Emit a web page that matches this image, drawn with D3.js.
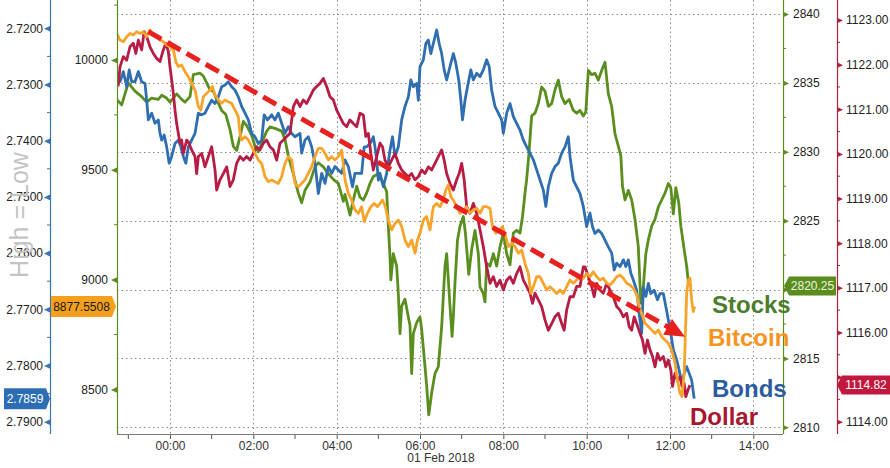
<!DOCTYPE html>
<html><head><meta charset="utf-8">
<script src="https://cdn.jsdelivr.net/npm/d3@7"></script>
<style>
html,body{margin:0;padding:0;background:#fff;}
svg{display:block;font-family:"Liberation Sans",Arial,sans-serif;}
</style></head><body>
<svg id="c" width="890" height="468"></svg>
<script>
// ---- data (time in hours from 01 Feb 2018 00:00, value) ----
const stocks = [[-1.28,2833.8],[-1.16,2833.4],[-1.0,2835.0],[-0.84,2834.4],[-0.68,2834.0],[-0.56,2833.6],[-0.44,2833.9],[-0.28,2833.8],[-0.2,2834.1],[-0.08,2833.9],[0,2833.6],[0.16,2834.2],[0.28,2833.8],[0.36,2833.6],[0.48,2834.0],[0.56,2835.6],[0.72,2835.7],[0.8,2835.5],[0.88,2835.0],[0.96,2834.5],[1.04,2834.4],[1.12,2833.8],[1.24,2833.0],[1.34,2832.7],[1.44,2831.6],[1.52,2830.4],[1.6,2830.1],[1.68,2831.1],[1.76,2832.2],[1.84,2831.9],[1.96,2831.2],[2.04,2830.4],[2.12,2830.0],[2.2,2830.6],[2.32,2831.5],[2.4,2831.8],[2.52,2831.7],[2.68,2831.5],[2.76,2830.9],[2.84,2829.7],[2.96,2828.4],[3.08,2827.0],[3.16,2826.3],[3.24,2827.2],[3.36,2827.8],[3.48,2828.9],[3.56,2829.2],[3.68,2828.9],[3.8,2828.4],[3.92,2828.0],[4.04,2827.7],[4.16,2826.4],[4.2,2826.9],[4.32,2825.4],[4.4,2826.5],[4.48,2827.5],[4.56,2826.7],[4.64,2826.5],[4.72,2827.0],[4.8,2827.7],[4.88,2828.2],[5.0,2828.4],[5.12,2827.7],[5.2,2827.1],[5.24,2824.6],[5.28,2822.4],[5.3,2820.7],[5.36,2822.6],[5.44,2821.7],[5.48,2819.7],[5.52,2816.8],[5.56,2818.8],[5.64,2819.3],[5.72,2818.0],[5.76,2817.4],[5.8,2813.9],[5.84,2816.8],[5.92,2817.6],[6.0,2818.0],[6.04,2817.1],[6.12,2814.4],[6.16,2813.0],[6.21,2810.9],[6.28,2812.5],[6.36,2813.9],[6.44,2814.4],[6.52,2817.3],[6.6,2821.7],[6.64,2822.6],[6.72,2818.8],[6.77,2816.6],[6.8,2818.0],[6.84,2820.5],[6.9,2823.6],[6.96,2824.6],[7.04,2825.3],[7.09,2824.1],[7.13,2822.6],[7.17,2821.1],[7.24,2822.9],[7.32,2824.3],[7.4,2822.6],[7.44,2820.2],[7.52,2819.7],[7.56,2819.1],[7.6,2821.9],[7.68,2821.7],[7.76,2822.6],[7.84,2821.7],[7.92,2823.1],[8.0,2824.1],[8.08,2822.6],[8.16,2821.8],[8.24,2824.1],[8.32,2824.3],[8.4,2824.1],[8.46,2825.3],[8.52,2827.0],[8.56,2828.0],[8.61,2829.7],[8.68,2832.6],[8.76,2832.8],[8.84,2833.5],[8.92,2834.7],[9.0,2834.4],[9.08,2833.3],[9.16,2833.5],[9.24,2834.5],[9.32,2835.2],[9.4,2834.0],[9.48,2833.5],[9.58,2833.8],[9.68,2833.0],[9.76,2832.8],[9.84,2833.0],[9.92,2832.6],[9.98,2832.9],[10.04,2835.9],[10.12,2835.6],[10.2,2835.7],[10.28,2835.2],[10.36,2835.9],[10.44,2836.5],[10.52,2834.2],[10.6,2833.3],[10.68,2831.3],[10.76,2830.4],[10.82,2829.7],[10.86,2827.5],[10.92,2826.5],[11.0,2827.2],[11.08,2826.5],[11.16,2825.1],[11.24,2823.1],[11.3,2819.0],[11.36,2820.2],[11.42,2822.6],[11.48,2823.6],[11.56,2824.6],[11.64,2825.1],[11.72,2826.0],[11.8,2826.5],[11.88,2827.0],[11.96,2827.7],[12.02,2827.4],[12.08,2825.5],[12.14,2827.4],[12.21,2826.3],[12.26,2824.6],[12.34,2822.9],[12.4,2821.7],[12.45,2820.25]];

const bonds = [[-1.28,2.7286],[-1.2,2.7295],[-1.12,2.7277],[-1.04,2.7304],[-0.98,2.7274],[-0.92,2.7295],[-0.84,2.7295],[-0.76,2.7277],[-0.68,2.7295],[-0.6,2.7298],[-0.56,2.7328],[-0.52,2.7363],[-0.44,2.7351],[-0.36,2.7369],[-0.28,2.7363],[-0.24,2.7387],[-0.2,2.7399],[-0.14,2.7390],[-0.08,2.7411],[-0.02,2.7440],[0.04,2.7428],[0.12,2.7405],[0.2,2.7399],[0.26,2.7411],[0.32,2.7428],[0.38,2.7440],[0.44,2.7411],[0.52,2.7399],[0.6,2.7387],[0.68,2.7351],[0.76,2.7354],[0.84,2.7351],[0.92,2.7339],[1.0,2.7328],[1.08,2.7334],[1.16,2.7322],[1.24,2.7304],[1.32,2.7301],[1.4,2.7295],[1.48,2.7304],[1.56,2.7310],[1.64,2.7322],[1.72,2.7339],[1.8,2.7351],[1.88,2.7363],[1.96,2.7387],[2.04,2.7393],[2.12,2.7405],[2.2,2.7399],[2.26,2.7354],[2.34,2.7363],[2.44,2.7354],[2.52,2.7363],[2.6,2.7351],[2.68,2.7369],[2.76,2.7387],[2.84,2.7375],[2.92,2.7387],[3.0,2.7393],[3.12,2.7387],[3.16,2.7422],[3.24,2.7399],[3.32,2.7393],[3.4,2.7411],[3.48,2.7440],[3.56,2.7494],[3.64,2.7458],[3.72,2.7476],[3.8,2.7446],[3.88,2.7458],[3.96,2.7446],[4.04,2.7452],[4.12,2.7458],[4.2,2.7434],[4.28,2.7446],[4.38,2.7482],[4.44,2.7458],[4.52,2.7458],[4.6,2.7458],[4.66,2.7411],[4.72,2.7411],[4.8,2.7405],[4.88,2.7393],[4.92,2.7411],[4.96,2.7434],[5.0,2.7470],[5.04,2.7458],[5.12,2.7482],[5.2,2.7458],[5.28,2.7417],[5.34,2.7393],[5.4,2.7428],[5.48,2.7411],[5.52,2.7387],[5.56,2.7363],[5.64,2.7339],[5.72,2.7322],[5.78,2.7292],[5.84,2.7304],[5.92,2.7298],[5.96,2.7328],[6.0,2.7268],[6.08,2.7256],[6.14,2.7227],[6.2,2.7221],[6.26,2.7245],[6.32,2.7227],[6.4,2.7203],[6.46,2.7227],[6.52,2.7245],[6.58,2.7274],[6.64,2.7292],[6.72,2.7268],[6.8,2.7245],[6.86,2.7262],[6.93,2.7292],[6.98,2.7328],[7.02,2.7363],[7.08,2.7328],[7.14,2.7304],[7.22,2.7274],[7.28,2.7292],[7.36,2.7280],[7.44,2.7286],[7.52,2.7274],[7.6,2.7256],[7.66,2.7268],[7.72,2.7310],[7.8,2.7339],[7.88,2.7351],[7.96,2.7363],[8.0,2.7387],[8.08,2.7351],[8.16,2.7334],[8.24,2.7357],[8.32,2.7369],[8.4,2.7381],[8.48,2.7399],[8.56,2.7411],[8.64,2.7422],[8.72,2.7434],[8.8,2.7452],[8.88,2.7470],[8.96,2.7488],[9.02,2.7517],[9.08,2.7482],[9.16,2.7458],[9.24,2.7446],[9.32,2.7440],[9.4,2.7422],[9.48,2.7411],[9.56,2.7393],[9.6,2.7428],[9.68,2.7470],[9.76,2.7482],[9.84,2.7494],[9.92,2.7517],[10.0,2.7553],[10.08,2.7529],[10.14,2.7553],[10.2,2.7565],[10.28,2.7559],[10.36,2.7565],[10.44,2.7577],[10.52,2.7589],[10.6,2.7600],[10.66,2.7630],[10.72,2.7618],[10.8,2.7624],[10.88,2.7612],[10.94,2.7624],[11.0,2.7612],[11.06,2.7636],[11.12,2.7648],[11.2,2.7666],[11.26,2.7707],[11.32,2.7743],[11.36,2.7660],[11.42,2.7677],[11.48,2.7654],[11.54,2.7672],[11.62,2.7666],[11.7,2.7683],[11.76,2.7672],[11.84,2.7672],[11.9,2.7695],[11.96,2.7719],[12.02,2.7743],[12.08,2.7772],[12.16,2.7790],[12.22,2.7808],[12.28,2.7832],[12.34,2.7814],[12.4,2.7802],[12.46,2.7814],[12.52,2.7826],[12.58,2.7859]];

const bitcoin = [[-1.28,10121],[-1.2,10091],[-1.12,10083],[-1.04,10106],[-0.96,10121],[-0.88,10114],[-0.8,10129],[-0.72,10121],[-0.64,10129],[-0.56,10106],[-0.48,10137],[-0.4,10114],[-0.32,10106],[-0.24,10091],[-0.16,10083],[-0.08,10068],[0,10061],[0.08,10046],[0.14,9992],[0.2,9970],[0.28,9977],[0.36,9947],[0.44,9924],[0.52,9894],[0.6,9863],[0.68,9787],[0.74,9772],[0.8,9833],[0.88,9848],[0.96,9863],[1.02,9879],[1.08,9841],[1.16,9818],[1.24,9803],[1.32,9818],[1.4,9810],[1.48,9803],[1.56,9772],[1.64,9742],[1.68,9666],[1.72,9636],[1.8,9651],[1.88,9636],[1.96,9605],[2.04,9575],[2.12,9545],[2.2,9529],[2.28,9469],[2.36,9446],[2.44,9454],[2.52,9446],[2.6,9438],[2.68,9469],[2.76,9529],[2.84,9560],[2.92,9545],[3.0,9438],[3.08,9423],[3.16,9438],[3.24,9454],[3.32,9484],[3.4,9514],[3.48,9560],[3.56,9598],[3.64,9598],[3.72,9575],[3.8,9545],[3.88,9560],[3.96,9545],[4.04,9560],[4.12,9590],[4.2,9454],[4.28,9393],[4.36,9362],[4.44,9317],[4.52,9302],[4.6,9332],[4.66,9264],[4.74,9302],[4.82,9332],[4.9,9347],[4.98,9332],[5.04,9347],[5.1,9362],[5.17,9332],[5.24,9271],[5.32,9226],[5.4,9256],[5.48,9271],[5.56,9241],[5.64,9180],[5.72,9150],[5.8,9180],[5.88,9120],[5.94,9180],[6.0,9211],[6.08,9271],[6.16,9287],[6.24,9226],[6.32,9332],[6.4,9347],[6.48,9332],[6.56,9362],[6.62,9408],[6.68,9431],[6.74,9378],[6.8,9362],[6.88,9332],[6.96,9302],[7.04,9317],[7.12,9332],[7.2,9302],[7.28,9317],[7.36,9325],[7.44,9302],[7.52,9332],[7.6,9332],[7.68,9325],[7.74,9241],[7.82,9211],[7.9,9226],[7.98,9241],[8.06,9195],[8.12,9150],[8.2,9165],[8.28,9150],[8.36,9120],[8.44,9135],[8.52,9074],[8.6,9028],[8.66,8937],[8.72,8968],[8.8,9013],[8.88,9013],[8.96,8983],[9.04,8953],[9.12,8968],[9.2,8953],[9.28,8937],[9.36,8953],[9.44,8937],[9.52,8968],[9.6,8998],[9.68,8983],[9.76,8998],[9.84,9013],[9.92,9006],[10.0,9028],[10.08,9013],[10.16,9036],[10.24,9013],[10.32,8998],[10.4,9006],[10.48,8983],[10.56,8975],[10.64,8991],[10.72,9013],[10.8,9021],[10.88,9006],[10.96,8983],[11.04,8975],[11.12,8960],[11.2,8930],[11.26,8877],[11.32,8846],[11.4,8801],[11.48,8786],[11.56,8770],[11.64,8755],[11.72,8770],[11.8,8740],[11.88,8725],[11.96,8710],[12.04,8679],[12.12,8619],[12.18,8543],[12.24,8482],[12.29,8467],[12.34,8573],[12.37,8755],[12.4,8937],[12.44,8998],[12.48,9006],[12.52,8907],[12.56,8854],[12.59,8877.5508]];

const dollar = [[-1.28,1121.73],[-1.24,1121.54],[-1.2,1121.95],[-1.12,1122.18],[-1.04,1122.10],[-0.96,1122.40],[-0.88,1122.48],[-0.82,1122.25],[-0.76,1122.55],[-0.68,1122.33],[-0.62,1122.74],[-0.56,1122.63],[-0.48,1122.40],[-0.4,1122.25],[-0.32,1122.14],[-0.24,1122.07],[-0.16,1122.33],[-0.1,1122.48],[-0.04,1122.29],[0,1121.95],[0.04,1121.66],[0.08,1121.36],[0.12,1120.98],[0.16,1120.68],[0.2,1120.46],[0.24,1120.24],[0.28,1120.31],[0.32,1120.01],[0.36,1120.16],[0.4,1120.31],[0.44,1120.27],[0.52,1120.09],[0.6,1119.94],[0.64,1119.56],[0.68,1119.94],[0.76,1120.01],[0.84,1119.71],[0.92,1119.94],[1.0,1120.16],[1.08,1119.64],[1.12,1119.19],[1.2,1119.42],[1.28,1119.56],[1.36,1119.71],[1.44,1119.27],[1.52,1119.42],[1.6,1119.79],[1.68,1119.94],[1.76,1119.86],[1.84,1119.94],[1.92,1119.86],[2.0,1120.01],[2.08,1120.16],[2.16,1120.09],[2.24,1120.24],[2.32,1120.31],[2.4,1120.16],[2.48,1120.09],[2.56,1119.86],[2.64,1120.24],[2.72,1120.31],[2.8,1120.39],[2.88,1120.46],[2.96,1121.06],[3.04,1121.21],[3.12,1121.06],[3.2,1121.21],[3.28,1121.13],[3.36,1121.28],[3.44,1121.43],[3.52,1121.51],[3.6,1121.58],[3.68,1121.69],[3.76,1121.51],[3.84,1121.28],[3.92,1121.21],[4.0,1120.98],[4.08,1120.83],[4.16,1120.68],[4.24,1120.61],[4.32,1120.76],[4.4,1120.68],[4.48,1120.61],[4.56,1120.91],[4.64,1120.87],[4.7,1120.39],[4.76,1120.46],[4.82,1120.01],[4.88,1119.64],[4.96,1119.94],[5.04,1120.24],[5.1,1120.16],[5.16,1119.86],[5.24,1119.71],[5.32,1119.86],[5.4,1120.01],[5.48,1119.79],[5.56,1119.64],[5.64,1119.56],[5.72,1119.49],[5.8,1119.56],[5.88,1119.42],[5.96,1119.49],[6.04,1119.64],[6.12,1119.56],[6.2,1119.71],[6.28,1119.64],[6.36,1119.79],[6.44,1119.94],[6.52,1120.09],[6.58,1119.86],[6.64,1119.56],[6.72,1119.34],[6.8,1119.19],[6.88,1119.42],[6.94,1119.56],[7.0,1119.79],[7.06,1119.42],[7.12,1118.82],[7.2,1118.67],[7.28,1118.89],[7.36,1118.67],[7.44,1118.30],[7.52,1117.92],[7.6,1117.47],[7.68,1117.10],[7.76,1117.25],[7.84,1117.03],[7.92,1117.17],[8.0,1116.95],[8.08,1117.17],[8.16,1117.25],[8.24,1117.10],[8.32,1117.32],[8.4,1117.47],[8.48,1117.17],[8.56,1117.03],[8.64,1116.88],[8.7,1116.65],[8.76,1116.88],[8.84,1116.73],[8.92,1116.58],[9.0,1116.28],[9.08,1116.05],[9.16,1116.20],[9.24,1116.35],[9.32,1116.43],[9.4,1116.20],[9.46,1116.05],[9.52,1116.50],[9.6,1116.80],[9.68,1116.80],[9.76,1117.03],[9.84,1117.03],[9.92,1117.47],[9.96,1117.47],[10.04,1117.25],[10.12,1117.03],[10.18,1116.80],[10.24,1117.10],[10.32,1116.95],[10.4,1116.88],[10.48,1117.10],[10.56,1116.95],[10.64,1116.80],[10.72,1116.58],[10.8,1116.50],[10.88,1116.35],[10.96,1116.43],[11.02,1116.13],[11.08,1116.05],[11.14,1116.35],[11.2,1116.20],[11.28,1115.98],[11.34,1115.83],[11.4,1115.53],[11.46,1115.83],[11.52,1115.61],[11.58,1115.46],[11.64,1115.23],[11.7,1115.53],[11.76,1115.38],[11.84,1115.46],[11.9,1115.23],[11.96,1115.38],[12.02,1115.16],[12.06,1114.79],[12.12,1115.08],[12.18,1114.93],[12.24,1115.01],[12.29,1114.79],[12.34,1114.86],[12.38,1114.56],[12.43,1114.71],[12.48,1114.82]];

const bondTicks = [2.72,2.73,2.74,2.75,2.76,2.77,2.78,2.79];
const bitcoinTicks = [8500,9000,9500,10000];
const stockTicks = [2810,2815,2820,2825,2830,2835,2840];
const dollarTicks = [1114,1115,1116,1117,1118,1119,1120,1121,1122,1123];
const hiddenTickLabels = [2820,1115]; // covered by last-value tags in the reference
const hourTicks = [0,2,4,6,8,10,12,14];
const minorHours = [-1,1,3,5,7,9,11,13];
const dateLabel = "01 Feb 2018";
const axisTitle = "High = Low";
const labels = [
  {name:"Stocks", color:"#4c7d2c"},
  {name:"Bitcoin", color:"#f7931e"},
  {name:"Bonds", color:"#2b5c9e"},
  {name:"Dollar", color:"#a8172f"}
];
const trendArrow = [[-0.52,10129],[12.36,8740]]; // (hour, bitcoin)

// ---- scales ----
const base = Date.UTC(2018,1,1);
const toDate = h => new Date(base + h*3600e3);
const x = d3.scaleUtc().domain([toDate(-1.272), toDate(14.712)]).range([117,783]);
const yBond = d3.scaleLinear().domain([2.72,2.79]).range([28.3,421.7]);
const yBtc = d3.scaleLinear().domain([8500,10000]).range([389.4,60]);
const yStk = d3.scaleLinear().domain([2810,2840]).range([427.3,14]);
const yUsd = d3.scaleLinear().domain([1114,1123]).range([421.7,20]);

const svg = d3.select("#c");
const L=117, R=783, B=434;

// gridlines
const grid = svg.append("g").attr("stroke","#8a8a8a").attr("stroke-width",1).attr("stroke-dasharray","1.5,3");
grid.selectAll(".h").data(stockTicks).join("line")
  .attr("x1",L).attr("x2",R).attr("y1",d=>Math.round(yStk(d))+0.5).attr("y2",d=>Math.round(yStk(d))+0.5);
grid.selectAll(".v").data(hourTicks).join("line")
  .attr("y1",0).attr("y2",B).attr("x1",d=>Math.round(x(toDate(d)))+0.5).attr("x2",d=>Math.round(x(toDate(d)))+0.5);

// series
svg.append("clipPath").attr("id","clip").append("rect").attr("x",L).attr("y",0).attr("width",R-L).attr("height",B);
const plot = svg.append("g").attr("clip-path","url(#clip)");
const series = [
  {data:stocks, y:yStk, color:"#5a8f1f"},
  {data:bonds, y:yBond, color:"#2f6eb0"},
  {data:dollar, y:yUsd, color:"#b71c45"},
  {data:bitcoin, y:yBtc, color:"#f8a42a"}
];
series.forEach(s=>{
  const line = d3.line().x(d=>x(toDate(d[0]))).y(d=>s.y(d[1]));
  plot.append("path").datum(s.data).attr("d",line).attr("fill","none")
    .attr("stroke",s.color).attr("stroke-width",2.8).attr("stroke-linejoin","round");
});

// trend arrow
{
  const p0=[x(toDate(trendArrow[0][0])), yBtc(trendArrow[0][1])];
  const p1=[x(toDate(trendArrow[1][0])), yBtc(trendArrow[1][1])];
  const dx=p1[0]-p0[0], dy=p1[1]-p0[1], len=Math.hypot(dx,dy), ux=dx/len, uy=dy/len;
  const hl=20, hw=9;
  const bx=p1[0]-ux*hl, by=p1[1]-uy*hl;
  svg.append("line").attr("x1",p0[0]).attr("y1",p0[1]).attr("x2",bx+ux*2).attr("y2",by+uy*2)
    .attr("stroke","#e8201e").attr("stroke-width",5).attr("stroke-dasharray","15,7");
  svg.append("path").attr("d",`M${p1[0]},${p1[1]}L${bx-uy*hw},${by+ux*hw}L${bx+uy*hw},${by-ux*hw}Z`).attr("fill","#e8201e");
}

// axes helper
function yAxis(scale, ticks, xpos, side, color, fmt, minors, pad){
  const ax = (side==="left"?d3.axisLeft(scale):d3.axisRight(scale)).tickValues(ticks).tickSize(0).tickPadding(pad)
    .tickFormat(d=>hiddenTickLabels.includes(d)?"":fmt(d));
  const g = svg.append("g").attr("transform",`translate(${xpos},0)`).call(ax);
  g.select(".domain").remove();
  g.selectAll(".tick text").attr("fill","#222").style("font-size","12px").style("font-family","'Liberation Sans',Arial,sans-serif");
  const dir = side==="left"?-1:1;
  g.selectAll(".tick").append("path").attr("d",`M0,-2.8L${dir*6},0L0,2.8Z`).attr("fill",color);
  g.selectAll(".minor").data(minors).join("line").attr("x1",0).attr("x2",dir*3)
    .attr("y1",d=>scale(d)).attr("y2",d=>scale(d)).attr("stroke",color).attr("stroke-width",1);
  svg.append("line").attr("x1",xpos+0.5).attr("x2",xpos+0.5).attr("y1",0).attr("y2",B).attr("stroke",color).attr("stroke-width",1.2);
}
yAxis(yBond, bondTicks, 50, "left", "#3a73b0", d3.format(".4f"), d3.range(2.725,2.79,0.01), 7);
yAxis(yBtc, bitcoinTicks, 117, "left", "#5f8a22", d3.format("d"), [8750,9250,9750,10250], 9);
yAxis(yStk, stockTicks, 783, "right", "#5f8a22", d3.format("d"), d3.range(2812.5,2840,5), 10);
yAxis(yUsd, dollarTicks, 837, "right", "#b3203c", d3.format(".2f"), d3.range(1114.5,1123,1), 9);

// bottom axis
{
  const ax = d3.axisBottom(x).tickValues(hourTicks.map(toDate)).tickSize(5).tickPadding(2).tickFormat(d3.utcFormat("%H:%M"));
  const g = svg.append("g").attr("transform",`translate(0,${B})`).call(ax);
  g.select(".domain").remove();
  g.selectAll(".tick line").attr("stroke","#555");
  g.selectAll(".tick text").attr("fill","#333").style("font-size","12px").style("font-family","'Liberation Sans',Arial,sans-serif");
  g.selectAll(".mn").data(minorHours).join("line").attr("x1",d=>x(toDate(d))).attr("x2",d=>x(toDate(d)))
    .attr("y1",0).attr("y2",5).attr("stroke","#555");
  svg.append("line").attr("x1",L).attr("x2",R).attr("y1",B+0.5).attr("y2",B+0.5).attr("stroke","#7a7a7a").attr("stroke-width",1.2);
  svg.append("text").attr("x",441).attr("y",462).attr("text-anchor","middle").attr("fill","#333")
    .style("font-size","12px").text(dateLabel);
}

// axis title
svg.append("text").attr("transform","translate(28,215) rotate(-90)").attr("text-anchor","middle")
  .attr("fill","#c4c4c4").style("font-size","25px").text(axisTitle);

// value tags
function tagLeft(yv, x0, x1, fill, txt, tcol){
  const h=10.5;
  svg.append("path").attr("d",`M${x0},${yv-h}H${x1-4}L${x1},${yv}L${x1-4},${yv+h}H${x0}Z`).attr("fill",fill);
  svg.append("text").attr("x",(x0+x1-4)/2).attr("y",yv+4.2).attr("text-anchor","middle").attr("fill",tcol).style("font-size","12px").text(txt);
}
function tagRight(yv, x0, x1, fill, txt, tcol){
  const h=9.5;
  svg.append("path").attr("d",`M${x0},${yv}L${x0+5},${yv-h}H${x1}V${yv+h}H${x0+5}Z`).attr("fill",fill);
  svg.append("text").attr("x",(x0+5+x1)/2).attr("y",yv+4.2).attr("text-anchor","middle").attr("fill",tcol).style("font-size","12px").text(txt);
}
const lastB = bonds[bonds.length-1][1], lastC = bitcoin[bitcoin.length-1][1],
      lastS = stocks[stocks.length-1][1], lastD = dollar[dollar.length-1][1];
tagLeft(yBond(lastB), 4, 50, "#2d6db3", d3.format(".4f")(lastB), "#fff");
tagLeft(yBtc(lastC), 51, 116, "#f5a01d", d3.format(".4f")(lastC), "#1a1a1a");
tagRight(yStk(lastS), 784, 836, "#5b8c1e", d3.format(".2f")(lastS), "#eef5e0");
tagRight(yUsd(lastD), 837, 890, "#c3183e", d3.format(".2f")(lastD), "#fff");

// series labels
const labelPos = [[712,313],[708,346],[712,397],[690,425]];
svg.selectAll(".lbl").data(labels).join("text")
  .attr("x",(d,i)=>labelPos[i][0]).attr("y",(d,i)=>labelPos[i][1])
  .attr("fill",d=>d.color).style("font-size","24px").style("font-weight","bold").text(d=>d.name);
</script>
</body></html>
